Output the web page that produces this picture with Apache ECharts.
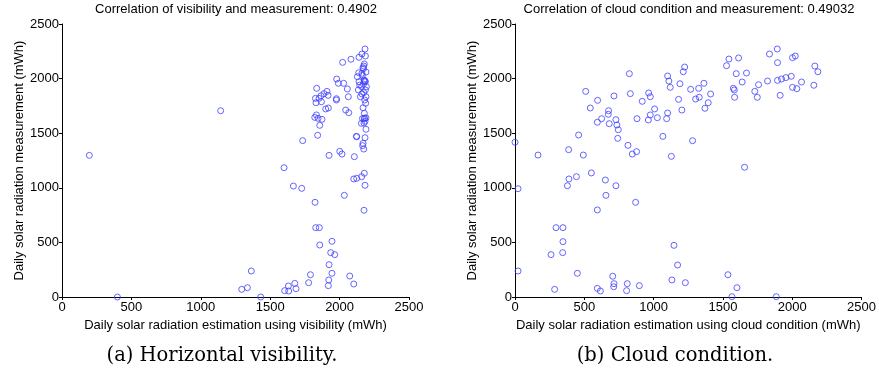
<!DOCTYPE html>
<html>
<head>
<meta charset="utf-8">
<script src="https://cdn.jsdelivr.net/npm/echarts@6/dist/echarts.min.js"></script>
<style>html,body{margin:0;padding:0;background:#fff;}#c{width:879px;height:373px;}</style>
</head>
<body>
<div id="c"></div>
<script>
// ---- Data ----
const titleA = 'Correlation of visibility and measurement: 0.4902';
const titleB = 'Correlation of cloud condition and measurement: 0.49032';
const xNameA = 'Daily solar radiation estimation using visibility (mWh)';
const xNameB = 'Daily solar radiation estimation using cloud condition (mWh)';
const yName = 'Daily solar radiation measurement (mWh)';
const captionA = '(a) Horizontal visibility.';
const captionB = '(b) Cloud condition.';
const axisTicks = [0, 500, 1000, 1500, 2000, 2500];

// (a) visibility estimation vs measurement
const visEst = [197,399,1143,1295,1336,1364,1432,1600,1604,1631,1633,1667,1677,1686,1727,1734,1777,1790,1823,1828,1854,1857,1842,1857,1919,1922,1924,1924,1936,1945,1945,1965,2001,2017,2034,2073,2102,2102,2123,2106,2121,2159,2178,2183,2176,2183,2169,2166,2174,2190,
  1835,1888,1909,1917,1866,1852,1826,1830,1869,1821,1833,1845,1873,1900,1919,
  1979,1991,2029,2056,2063,1977,1977,2044,2066,2022,2082,
  2183,2161,2186,2140,2174,2178,2138,2161,2190,2128,2176,2182,2186,2178,2140,2145,2159,2193,2186,2135,2174,2150,2190,2181,2188,2169,2178,2165,2178,2180,2190,2183,2157,2176,2123,
  2168,2172,2164,2172,2160];
const visMeas = [1297,0,1706,70,85,238,0,1184,58,101,55,1016,125,76,995,1432,131,204,867,635,635,476,1481,1572,104,156,296,1297,406,510,217,388,1334,1309,931,192,119,1081,1087,1285,1471,1102,1133,1023,794,1459,1407,1386,1355,1536,
  1911,1862,1883,1847,1843,1819,1819,1779,1788,1645,1667,1636,1627,1722,1731,
  1996,1957,1957,1905,1834,1816,1804,1712,1688,2149,2177,
  2271,2225,2207,2195,2115,2134,2054,2048,2060,2017,1987,1980,1972,1975,1972,1941,1926,1926,1896,1896,1871,1834,1834,1804,1774,1733,1682,1635,1632,1638,1640,1609,1590,1593,1468,
  2100,2090,2030,1950,1860];

// (b) cloud condition estimation vs measurement
const cloudEst = [0,166,387,459,493,510,543,596,594,625,675,673,680,714,728,735,745,741,815,825,832,846,877,880,918,964,976,962,976,1007,1027,1067,1101,1110,1120,1101,1094,1128,1190,1180,1204,1214,1224,1267,1281,1303,1325,1329,1363,1370,1394,1411,1526,1543,1613,1575,1582,1584,1596,1639,1670,1730,1748,1757,1822,1836,1892,1894,1894,1913,1923,1954,1993,2002,2022,2002,2033,2067,2156,2163,2185,
  1656,22,551,389,378,443,652,728,656,870,594,296,346,346,260,344,1147,1173,22,450,705,1132,1229,1536,1601,1565,1885,286,594,616,714,712,810,805,897];
const cloudMeas = [1417,1300,1349,1483,1300,1883,1731,1801,1600,1633,1706,1673,1587,1841,1624,1575,1532,1453,1389,2045,1862,1309,1331,1633,1792,1868,1834,1621,1667,1722,1642,1471,2024,1978,1920,1685,1633,1288,1953,1810,1712,2063,2106,1902,1431,1813,1911,1829,1957,1728,1779,1859,2118,2179,2189,1911,1896,1829,2045,1969,2051,1883,1829,1944,1978,2225,2271,2146,1984,1847,1996,2009,2021,2192,2207,1920,1908,1969,1939,2115,2063,
  1188,992,1136,1081,1019,1102,1071,1019,931,867,797,635,635,507,388,406,473,293,238,217,190,156,131,204,85,3,3,70,79,55,122,94,122,58,104];

const pairs = (xs, ys) => xs.map((x, i) => [x, ys[i]]);

// ---- Styles ----
const SANS = '"Liberation Sans", Arial, sans-serif';
const SERIF = '"DejaVu Serif", serif';
const gridA = {left: 62, top: 24, width: 347, height: 273};
const gridB = {left: 515, top: 24, width: 347, height: 273};
const plainNum = v => String(v);

function makeX(gridIndex, name) {
  return {
    type: 'value', gridIndex, min: axisTicks[0], max: axisTicks[axisTicks.length - 1], interval: 500,
    name, nameLocation: 'middle', nameGap: 19,
    nameTextStyle: {color: '#000', fontSize: 13, fontFamily: SANS},
    axisLine: {show: true, onZero: false, lineStyle: {color: '#000', width: 1}},
    axisTick: {show: true, inside: false, length: 3, lineStyle: {color: '#000'}},
    axisLabel: {color: '#000', fontSize: 13, fontFamily: SANS, margin: 4, formatter: plainNum},
    splitLine: {show: false}
  };
}
function makeY(gridIndex, name) {
  return {
    type: 'value', gridIndex, min: axisTicks[0], max: axisTicks[axisTicks.length - 1], interval: 500,
    name, nameLocation: 'middle', nameGap: 36,
    nameTextStyle: {color: '#000', fontSize: 13, fontFamily: SANS},
    axisLine: {show: true, onZero: false, lineStyle: {color: '#000', width: 1}},
    axisTick: {show: true, inside: false, length: 3, lineStyle: {color: '#000'}},
    axisLabel: {color: '#000', fontSize: 13, fontFamily: SANS, margin: 3, formatter: plainNum},
    splitLine: {show: false}
  };
}
const markerStyle = {color: 'rgba(0,0,0,0)', borderColor: '#4040ff', borderWidth: 1};

const chart = echarts.init(document.getElementById('c'), null, {renderer: 'canvas'});
chart.setOption({
  animation: false,
  backgroundColor: '#fff',
  grid: [gridA, gridB],
  xAxis: [makeX(0, xNameA), makeX(1, xNameB)],
  yAxis: [makeY(0, yName), makeY(1, yName)],
  series: [
    {type: 'scatter', xAxisIndex: 0, yAxisIndex: 0, symbol: 'circle', symbolSize: 6, itemStyle: markerStyle, data: pairs(visEst, visMeas)},
    {type: 'scatter', xAxisIndex: 1, yAxisIndex: 1, symbol: 'circle', symbolSize: 6, itemStyle: markerStyle, data: pairs(cloudEst, cloudMeas)}
  ],
  graphic: [
    {type: 'text', x: 236, y: 9, style: {text: titleA, font: '13px ' + SANS, fill: '#000', textAlign: 'center', textVerticalAlign: 'middle'}},
    {type: 'text', x: 689, y: 9, style: {text: titleB, font: '13px ' + SANS, fill: '#000', textAlign: 'center', textVerticalAlign: 'middle'}},
    {type: 'text', x: 222, y: 356, style: {text: captionA, font: '19.5px ' + SERIF, fill: '#000', textAlign: 'center', textVerticalAlign: 'middle'}},
    {type: 'text', x: 675, y: 356, style: {text: captionB, font: '19.5px ' + SERIF, fill: '#000', textAlign: 'center', textVerticalAlign: 'middle'}}
  ]
});
</script>
</body>
</html>
